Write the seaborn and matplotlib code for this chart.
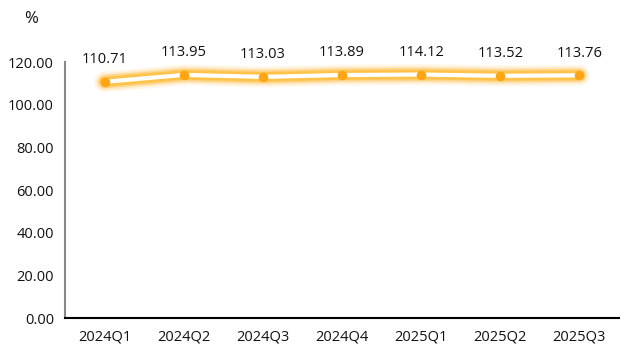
import matplotlib
matplotlib.use("Agg")
import matplotlib.pyplot as plt
import seaborn as sns
import pandas as pd

categories = ["2024Q1", "2024Q2", "2024Q3", "2024Q4", "2025Q1", "2025Q2", "2025Q3"]
values = [110.71, 113.95, 113.03, 113.89, 114.12, 113.52, 113.76]
y_ticks = [0, 20, 40, 60, 80, 100, 120]

sns.set_style("white")
plt.rcParams['font.family'] = ['Open Sans', 'DejaVu Sans']

df = pd.DataFrame({"quarter": categories, "value": values})

fig = plt.figure(figsize=(6.35, 3.54), dpi=100)
ax = fig.add_axes([65/635, 36/354, (619-65)/635, (318-62)/354])

# glow layers
for lw, a in [(15, 0.10), (12, 0.18), (9.5, 0.35)]:
    sns.lineplot(data=df, x="quarter", y="value", ax=ax, color="#FFB020",
                 linewidth=lw, alpha=a, sort=False, solid_capstyle="round")
sns.lineplot(data=df, x="quarter", y="value", ax=ax, color="#FFC24A",
             linewidth=7, sort=False, solid_capstyle="round")
sns.lineplot(data=df, x="quarter", y="value", ax=ax, color="white",
             linewidth=3, sort=False, solid_capstyle="round")
sns.scatterplot(data=df, x="quarter", y="value", ax=ax, color="#FFA412",
                s=48, linewidth=0, zorder=5)

for i, v in enumerate(values):
    ax.annotate(f"{v:.2f}", (i, v), xytext=(0, 16), textcoords="offset points",
                ha="center", va="center", fontsize=10.5, color="#111111")

ax.set_xlim(-0.5, len(categories) - 0.5)
ax.set_ylim(0, 120)
ax.set_yticks(y_ticks)
ax.set_yticklabels([f"{t:.2f}" for t in y_ticks], fontsize=10.5, color="#111111")

ax.set_xticks([i - 0.5 for i in range(len(categories) + 1)])
ax.set_xticklabels([])
ax.set_xticks(range(len(categories)), minor=True)
ax.set_xticklabels(categories, minor=True, fontsize=10.5, color="#111111")
ax.tick_params(axis="x", which="major", length=5, width=1.5, color="black", direction="out")
ax.tick_params(axis="x", which="minor", length=0, pad=8)
ax.tick_params(axis="y", length=4, width=1, color="#888888", pad=4)

ax.set_xlabel("")
ax.set_ylabel("")
for s in ["top", "right"]:
    ax.spines[s].set_visible(False)
ax.spines["left"].set_color("#888888")
ax.spines["left"].set_linewidth(1.5)
ax.spines["bottom"].set_color("black")
ax.spines["bottom"].set_linewidth(1.5)
ax.grid(False)

fig.text(31/635, 1 - 19/354, "%", fontsize=12, ha="center", va="center", color="#111111")

fig.savefig("out.png", dpi=100)
